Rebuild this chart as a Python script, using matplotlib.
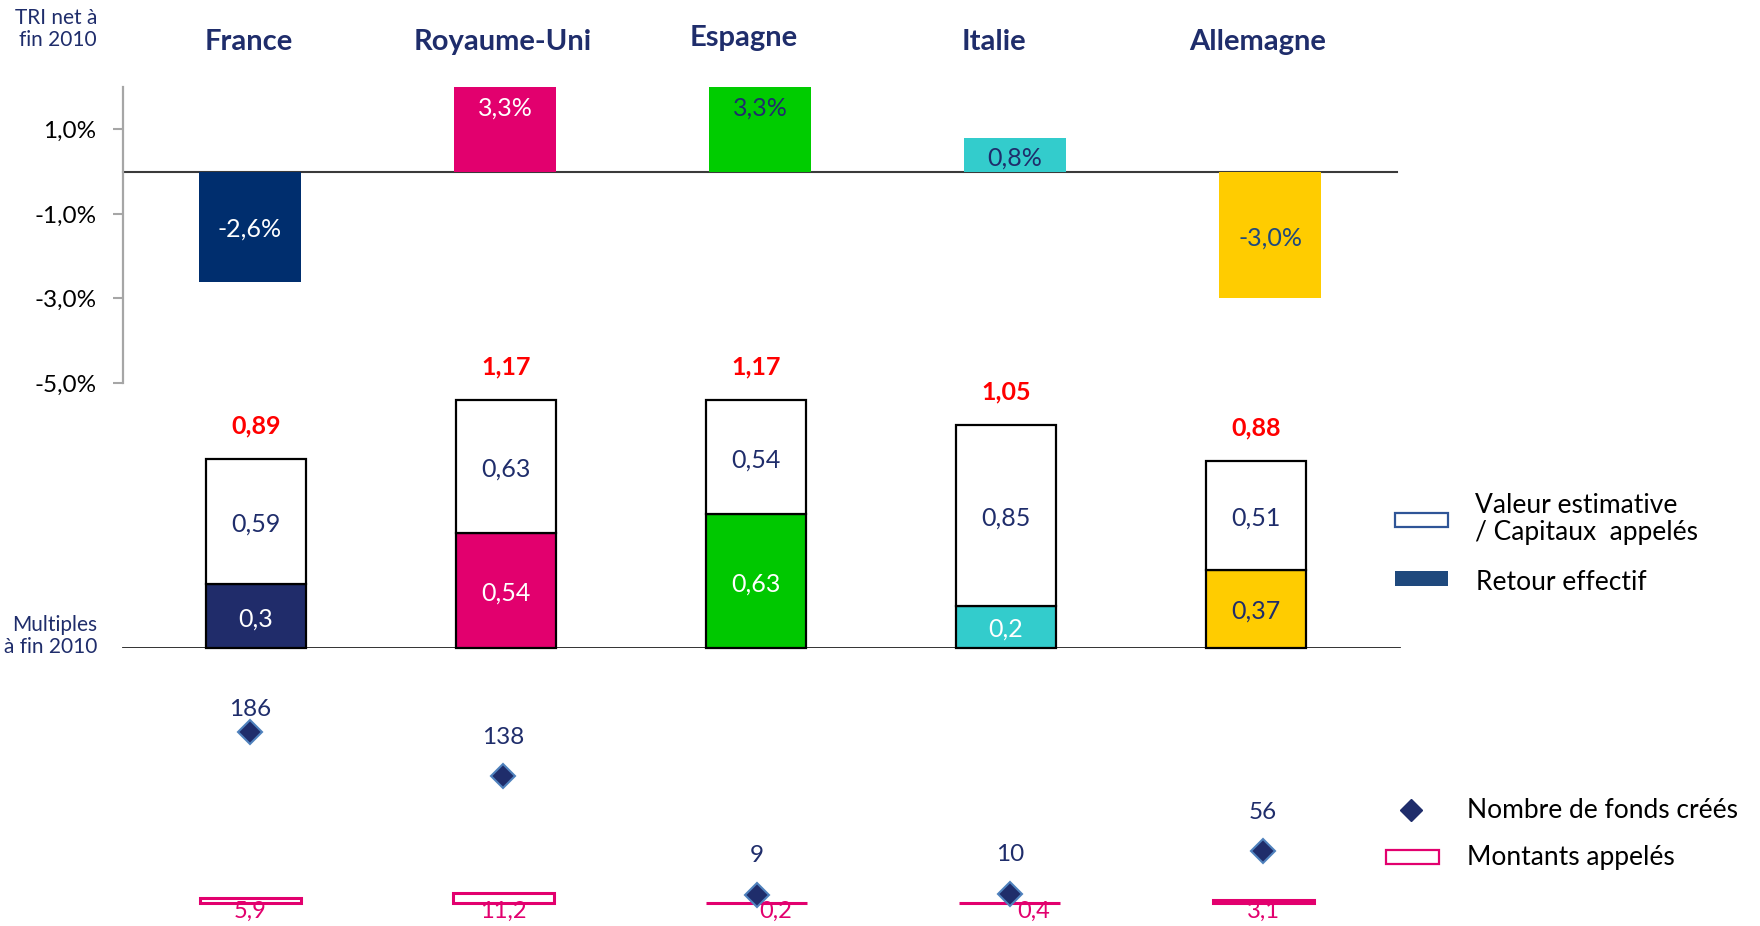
import matplotlib
matplotlib.use("Agg")
import matplotlib.pyplot as plt
from matplotlib.patches import Rectangle

plt.rcParams['font.family'] = ['Lato', 'DejaVu Sans']

# data
pays = ["France", "Royaume-Uni", "Espagne", "Italie", "Allemagne"]
tri_net = [-2.6, 3.3, 3.3, 0.8, -3.0]            # TRI net a fin 2010, en %
retour_effectif = [0.30, 0.54, 0.63, 0.20, 0.37]
valeur_estimative = [0.59, 0.63, 0.54, 0.85, 0.51]
multiple_total = [0.89, 1.17, 1.17, 1.05, 0.88]
nb_fonds = [186, 138, 9, 10, 56]
montants_appeles = [5.9, 11.2, 0.2, 0.4, 3.1]
tri_ticks = [-5.0, -3.0, -1.0, 1.0]

# colours
navy = "#1F2D6B"
pink = "#E2006E"
couleurs_tri = ["#002E6E", pink, "#00CC00", "#33CCCC", "#FFCC00"]
couleurs_mult = ["#202C6A", pink, "#00C800", "#33CCCC", "#FFCC00"]
txt_tri = ["white", "white", navy, navy, "#1F497D"]
txt_retour = ["white", "white", "white", "white", navy]

W, H = 1760, 926
fig = plt.figure(figsize=(W / 100, H / 100), dpi=100)
idx = list(range(len(pays)))


def fr(v, nd):
    return f"{v:.{nd}f}".replace(".", ",")


def band(top_px, bot_px):
    ax = fig.add_axes([0, 1 - bot_px / H, 1, (bot_px - top_px) / H])
    ax.patch.set_alpha(0)
    for s in ax.spines.values():
        s.set_visible(False)
    ax.set_xticks([])
    ax.set_yticks([])
    return ax


def set_x(ax, x0, step):
    # category i sits at pixel x0 + i*step
    ax.set_xlim(-x0 / step, (W - x0) / step)
    return lambda px: (px - x0) / step


# ---- TRI net (top)
ax1 = band(87, 383)
px1 = set_x(ax1, 250, 255)
ax1.set_ylim(-5, 2)
ax1.bar(idx, tri_net, width=102 / 255, color=couleurs_tri, zorder=2)
ax1.plot([px1(123), px1(1397)], [0, 0], color="#3A3A3A", lw=1.5, zorder=1)
ax1.spines['left'].set_visible(True)
ax1.spines['left'].set_position(('data', px1(123)))
ax1.spines['left'].set_color("#A6A6A6")
ax1.spines['left'].set_linewidth(1.6)
ax1.set_yticks(tri_ticks, labels=[fr(t, 1) + "%" for t in tri_ticks])
ax1.tick_params(axis='y', direction='out', length=7, width=1.5, color="#A6A6A6",
                labelsize=17.5, pad=12, labelcolor="black")
for i, v in enumerate(tri_net):
    if v > 0:
        ax1.annotate(fr(v, 1) + "%", (i, min(v, 2)), xytext=(0, -15), textcoords='offset points',
                     ha='center', va='center', fontsize=18, color=txt_tri[i], zorder=4)
    else:
        ax1.annotate(fr(v, 1) + "%", (i, v / 2), xytext=(0, -2), textcoords='offset points',
                     ha='center', va='center', fontsize=18, color=txt_tri[i], zorder=4)

# ---- Multiples (middle)
ax2 = band(351, 648)
px2 = set_x(ax2, 256, 250)
ax2.set_ylim(0, 1.4)
ax2.plot([px2(123), px2(1400)], [0, 0], color="#222222", lw=1.3, zorder=1)
ax2.bar(idx, retour_effectif, width=100 / 250, color=couleurs_mult, edgecolor="black",
        lw=1.6, zorder=3, clip_on=False)
ax2.bar(idx, valeur_estimative, bottom=retour_effectif, width=100 / 250, color="white",
        edgecolor="black", lw=1.6, zorder=3, clip_on=False)
for i in idx:
    r, v, t = retour_effectif[i], valeur_estimative[i], multiple_total[i]
    ax2.annotate(fr(r, 2).rstrip("0"), (i, r / 2), xytext=(0, -2), textcoords='offset points',
                 ha='center', va='center', fontsize=18, color=txt_retour[i], zorder=4)
    ax2.annotate(fr(v, 2), (i, r + v / 2), xytext=(0, -2), textcoords='offset points',
                 ha='center', va='center', fontsize=18, color=navy, zorder=4)
    ax2.annotate(fr(t, 2), (i, t), xytext=(0, 24), textcoords='offset points', ha='center',
                 va='center', fontsize=18, fontweight='bold', color="#FF0000", zorder=4)

# ---- Nombre de fonds / montants appeles (bottom)
ax3 = band(680, 926)
px3 = set_x(ax3, 250, 253.3)
ax3.set_ylim(-25, (903 - 680) / 0.92)
ax3.bar(idx, montants_appeles, width=101 / 253.3, color="white", edgecolor=pink, lw=2.2,
        zorder=2, clip_on=False)
ax3.plot(idx, nb_fonds, 'D', ms=12.5, mfc=navy, mec="#4F81BD", mew=1.5, ls='none', zorder=3)
fonds_dy = [16, 28, 28, 28, 28]
montant_dx = [0, 0, 14, 17, 0]
for i in idx:
    ax3.annotate(str(nb_fonds[i]), (i, nb_fonds[i]), xytext=(0, fonds_dy[i]),
                 textcoords='offset points', ha='center', va='center', fontsize=17.5, color=navy)
    ax3.annotate(fr(montants_appeles[i], 1), (i, 0), xytext=(montant_dx[i], -6),
                 textcoords='offset points', ha='center', va='center', fontsize=17, color=pink,
                 zorder=4)

# ---- overlay: titles, side labels, legend (pixel coordinates)
ax0 = fig.add_axes([0, 0, 1, 1])
ax0.set_xlim(0, W)
ax0.set_ylim(H, 0)
ax0.axis('off')
ax0.patch.set_alpha(0)

titre_x = [249, 503, 744, 994, 1258]
titre_y = [42, 42, 38, 42, 42]
for i, p in enumerate(pays):
    ax0.text(titre_x[i], titre_y[i], p, ha='center', va='center', fontsize=21,
             fontweight='bold', color=navy)

ax0.text(97, 29, "TRI net à\nfin 2010", ha='right', va='center', fontsize=15, color=navy,
         linespacing=1.15)
ax0.text(97, 636, "Multiples\nà fin 2010", ha='right', va='center', fontsize=15, color=navy,
         linespacing=1.15)

ax0.add_patch(Rectangle((1395, 513), 53, 14, facecolor="white", edgecolor="#2F5597", lw=1.6))
ax0.text(1475, 519, "Valeur estimative\n/ Capitaux  appelés", ha='left', va='center',
         fontsize=19, color="black", linespacing=1.12)
ax0.add_patch(Rectangle((1395, 571), 53, 15, facecolor="#1F497D", edgecolor="none"))
ax0.text(1476, 582, "Retour effectif", ha='left', va='center', fontsize=19, color="black")
ax0.plot([1411], [810], 'D', ms=11.5, color=navy)
ax0.text(1467, 811, "Nombre de fonds créés", ha='left', va='center', fontsize=19, color="black")
ax0.add_patch(Rectangle((1386, 850), 53, 14, facecolor="white", edgecolor=pink, lw=1.6))
ax0.text(1467, 858, "Montants appelés", ha='left', va='center', fontsize=19, color="black")

fig.savefig("out.png", dpi=100)
